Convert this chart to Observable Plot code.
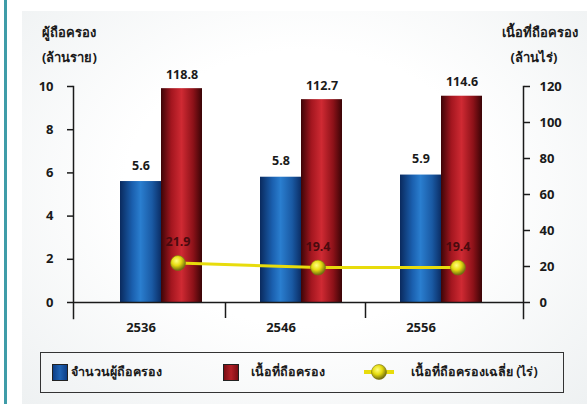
<!DOCTYPE html>
<html>
<head>
<meta charset="utf-8">
<script src="https://cdn.jsdelivr.net/npm/d3@7"></script>
<script src="https://cdn.jsdelivr.net/npm/@observablehq/plot@0.6"></script>
<style>
  body { margin: 0; background: #fff; }
  #wrap { position: relative; width: 587px; height: 404px; overflow: hidden; background: #fff;
          font-family: "Noto Sans", "DejaVu Sans", sans-serif; font-weight: bold; color: #1a1a1a; }
  #border { position: absolute; left: 4px; top: 0; width: 3px; height: 404px; background: #3f9ca8; }
  #panel { position: absolute; left: 22px; top: 11px; right: 0; bottom: 0;
           background: radial-gradient(ellipse at 50% 45%, #ffffff 45%, #eef1f2 100%); }
  #chart { position: absolute; left: 0; top: 0; }
  .ttl { position: absolute; font-size: 13px; line-height: 25px; white-space: nowrap; }
  #legend { position: absolute; left: 40px; top: 352px; width: 524px; height: 41px; box-sizing: border-box;
            border: 1.5px solid #333; font-size: 12.5px; }
  .li { position: absolute; top: 0; height: 38px; display: flex; align-items: center; white-space: nowrap; }
  .sw { width: 16px; height: 17px; box-sizing: border-box; border: 1px solid #222; margin-right: 3px; }
</style>
</head>
<body>
<div id="wrap">
  <div id="border"></div>
  <div id="panel"></div>
  <div id="chart"></div>
  <div class="ttl" style="left:42px; top:20px;">ผู้ถือครอง<br>(ล้านราย)</div>
  <div class="ttl" style="right:9px; top:20px; text-align:center;">เนื้อที่ถือครอง<br><span style="position:relative;left:-6px">(ล้านไร่)</span></div>
  <div id="legend"></div>
</div>
<script>
// ---- data ----
const years = ["2536", "2546", "2556"];
const holders = [5.6, 5.8, 5.9];          // ล้านราย (left axis)
const area = [118.8, 112.7, 114.6];       // ล้านไร่ (right axis)
const avgArea = [21.9, 19.4, 19.4];       // ไร่ (plotted on right axis)
const leftTicks = [0, 2, 4, 6, 8, 10];
const rightTicks = [0, 20, 40, 60, 80, 100, 120];
const seriesNames = ["จำนวนผู้ถือครอง", "เนื้อที่ถือครอง", "เนื้อที่ถือครองเฉลี่ย (ไร่)"];

// right axis max 120 maps onto left axis max 10
const ratio = rightTicks[rightTicks.length - 1] / leftTicks[leftTicks.length - 1];

const rows = years.map((y, i) => ({year: y, holders: holders[i], area: area[i], avg: avgArea[i]}));

const W = 587, H = 345, ML = 73, MR = 64, MT = 86, MB = 43;
const xInsetL = 18, xInsetR = 12;
const bw = (W - ML - MR - xInsetL - xInsetR) / years.length;
const barW = 41;
const inset = (bw - barW) / 2;
const bold = {fontSize: 13, fontWeight: "bold", fill: "#1a1a1a"};
const axisStroke = {stroke: "#1a1a1a", strokeWidth: 1.5};

const chart = Plot.plot({
  width: W, height: H,
  marginLeft: ML, marginRight: MR, marginTop: MT, marginBottom: MB,
  style: {background: "transparent", fontFamily: "Noto Sans, DejaVu Sans, sans-serif", color: "#1a1a1a"},
  x: {type: "band", domain: years, padding: 0, insetLeft: xInsetL, insetRight: xInsetR, axis: null},
  y: {domain: [0, 10], axis: null},
  marks: [
    Plot.barY(rows, {x: "year", y: "holders", fill: "url(#gBlue)", insetLeft: inset, insetRight: inset, dx: -barW / 2}),
    Plot.barY(rows, {x: "year", y: d => d.area / ratio, fill: "url(#gRed)", insetLeft: inset, insetRight: inset, dx: barW / 2}),
    Plot.text(rows, {x: "year", y: "holders", text: d => d.holders.toFixed(1), dx: -barW / 2, dy: -16, ...bold, fontSize: 12.5}),
    Plot.text(rows, {x: "year", y: d => d.area / ratio, text: d => d.area.toFixed(1), dx: barW / 2, dy: -14, ...bold, fontSize: 12.5}),
    Plot.ruleY([0], axisStroke),
    Plot.frame({anchor: "left", insetBottom: -16, ...axisStroke}),
    Plot.frame({anchor: "right", insetBottom: -16, ...axisStroke}),
    Plot.axisX({ticks: years.slice(1), tickSize: 16, tickFormat: () => "", label: null, dx: -bw / 2 - 6, ...axisStroke}),
    Plot.axisX({tickSize: 0, tickPadding: 20, dx: -barW / 2, ...bold, label: null}),
    Plot.axisY({anchor: "left", ticks: leftTicks, tickSize: 6, tickPadding: 14, ...bold, label: null, ...axisStroke}),
    Plot.axisY({anchor: "right", ticks: rightTicks.map(d => d / ratio), tickFormat: d => Math.round(d * ratio),
                tickSize: 6, tickPadding: 10, ...bold, label: null, ...axisStroke}),
    Plot.line(rows, {x: "year", y: d => d.avg / ratio, stroke: "#e8dc0c", strokeWidth: 3, dx: barW / 2 - 4}),
    Plot.dot(rows, {x: "year", y: d => d.avg / ratio, r: 7.5, fill: "url(#gBall)", stroke: "#7a7410", strokeWidth: 0.6, dx: barW / 2 - 4}),
    Plot.text(rows, {x: "year", y: d => d.avg / ratio, text: d => d.avg.toFixed(1), dx: barW / 2 - 4, dy: -21, ...bold, fontSize: 12.5, fill: "#4a0a0e"})
  ]
});

chart.insertAdjacentHTML("afterbegin", `
<defs>
  <linearGradient id="gBlue" x1="0" x2="1" y1="0" y2="0">
    <stop offset="0" stop-color="#0a2a5e"/>
    <stop offset="0.3" stop-color="#1a5fae"/>
    <stop offset="0.5" stop-color="#2a7ecf"/>
    <stop offset="0.78" stop-color="#1a5aa4"/>
    <stop offset="1" stop-color="#0b2e66"/>
  </linearGradient>
  <linearGradient id="gRed" x1="0" x2="1" y1="0" y2="0">
    <stop offset="0" stop-color="#3d0507"/>
    <stop offset="0.25" stop-color="#a3161f"/>
    <stop offset="0.5" stop-color="#cf2a33"/>
    <stop offset="0.78" stop-color="#8e1219"/>
    <stop offset="1" stop-color="#3a0406"/>
  </linearGradient>
  <radialGradient id="gBall" cx="0.4" cy="0.35" r="0.7">
    <stop offset="0" stop-color="#ffff80"/>
    <stop offset="0.45" stop-color="#e6dc10"/>
    <stop offset="1" stop-color="#5e5a10"/>
  </radialGradient>
</defs>`);
document.getElementById("chart").append(chart);

// ---- legend ----
const lg = document.getElementById("legend");
const items = [
  {left: 11, html: `<div class="sw" style="background:linear-gradient(90deg,#0d3e86,#1f63b4,#0d3e86)"></div>`},
  {left: 182, html: `<div class="sw" style="background:linear-gradient(90deg,#7a0e14,#b32027,#7a0e14); margin-right:12px"></div>`},
  {left: 322, html: `<svg width="32" height="18" style="margin-right:16px"><line x1="1" x2="31" y1="9" y2="9" stroke="#e8dc0c" stroke-width="4"/><circle cx="16" cy="9" r="7.5" fill="url(#gBall)" stroke="#7a7410" stroke-width="0.6"/></svg>`}
];
items.forEach((it, i) => {
  const d = document.createElement("div");
  d.className = "li";
  d.style.left = it.left + "px";
  d.innerHTML = it.html + `<span>${seriesNames[i]}</span>`;
  lg.append(d);
});
</script>
</body>
</html>
